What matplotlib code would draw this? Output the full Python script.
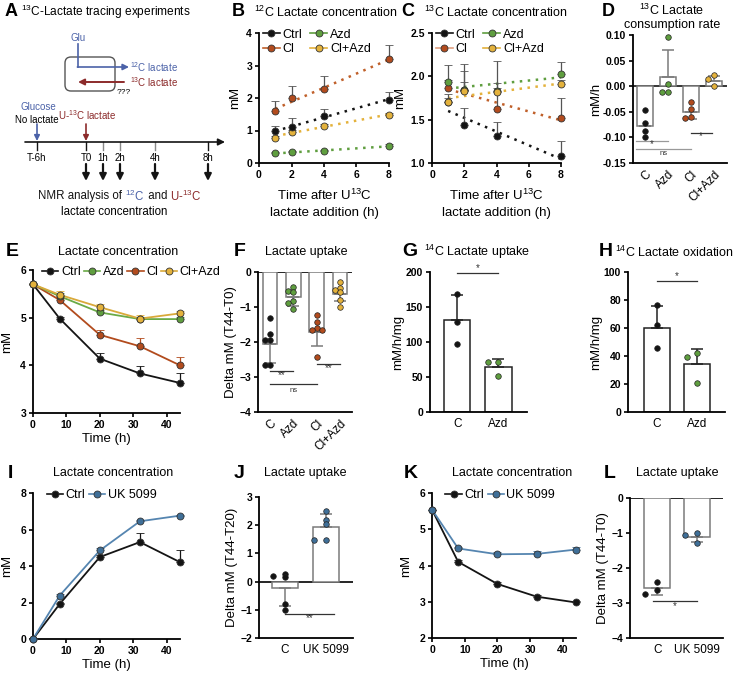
import matplotlib.pyplot as plt
import numpy as np
from matplotlib.patches import FancyBboxPatch
from matplotlib.lines import Line2D

plt.rcParams['font.family'] = ['Liberation Sans', 'DejaVu Sans']
plt.rcParams['mathtext.fontset'] = 'custom'
plt.rcParams['mathtext.rm'] = 'Liberation Sans'
plt.rcParams['axes.linewidth'] = 1.3

# ---------------- data ----------------
# B: 12C lactate, C: 13C lactate (time after U13C addition, h)
tr_time = [1, 2, 4, 8]
b_ctrl = [0.98, 1.10, 1.45, 1.95]
b_ctrl_err = [0.15, 0.28, 0.20, 0.24]
b_azd = [0.30, 0.33, 0.37, 0.52]
b_azd_err = [0.03, 0.03, 0.03, 0.06]
b_cl = [1.60, 1.99, 2.27, 3.19]
b_cl_err = [0.31, 0.37, 0.42, 0.43]
b_clazd = [0.78, 0.96, 1.14, 1.48]
b_clazd_err = [0.05, 0.05, 0.05, 0.05]

c_ctrl = [1.70, 1.44, 1.31, 1.08]
c_ctrl_err = [0.10, 0.20, 0.16, 0.17]
c_azd = [1.94, 1.84, 1.83, 2.03]
c_azd_err = [0.19, 0.10, 0.35, 0.13]
c_cl = [1.86, 1.84, 1.62, 1.52]
c_cl_err = [0.10, 0.30, 0.25, 0.23]
c_clazd = [1.70, 1.83, 1.82, 1.91]
c_clazd_err = [0.05, 0.23, 0.10, 0.05]

# D: 13C lactate consumption rate (mM/h)
d_cats = ['C', 'Azd', 'Cl', 'Cl+Azd']
d_means = [-0.077, 0.017, -0.050, 0.011]
d_sd = [0.0, 0.053, 0.015, 0.008]
d_pts = [[-0.047, -0.072, -0.088, -0.099],
         [0.097, 0.005, -0.012, -0.012],
         [-0.030, -0.045, -0.061, -0.062],
         [0.022, 0.014, 0.001]]

# E: lactate concentration (mM) over time (h)
time_h = [0, 8, 20, 32, 44]
e_ctrl = [5.70, 4.98, 4.14, 3.83, 3.63]
e_ctrl_err = [0.0, 0.03, 0.11, 0.15, 0.21]
e_azd = [5.70, 5.45, 5.11, 4.97, 4.97]
e_azd_err = [0.0, 0.07, 0.06, 0.05, 0.05]
e_cl = [5.70, 5.37, 4.64, 4.40, 4.00]
e_cl_err = [0.0, 0.04, 0.11, 0.17, 0.18]
e_clazd = [5.70, 5.48, 5.22, 4.98, 5.09]
e_clazd_err = [0.0, 0.08, 0.06, 0.08, 0.06]

# F: lactate uptake, delta mM (T44-T0)
f_cats = ['C', 'Azd', 'Cl', 'Cl+Azd']
f_means = [-2.05, -0.72, -1.70, -0.62]
f_sd = [0.55, 0.25, 0.40, 0.22]
f_pts = [[-1.30, -1.78, -1.95, -1.95, -2.67, -2.67],
         [-0.43, -0.54, -0.57, -0.83, -0.89, -1.07],
         [-1.22, -1.43, -1.59, -1.67, -1.67, -2.43],
         [-0.29, -0.45, -0.50, -0.58, -0.81, -1.00]]

# G / H: 14C lactate uptake and oxidation (mM/h/mg)
gh_cats = ['C', 'Azd']
g_means = [131, 64]
g_sd = [36, 12]
g_pts = [[168, 129, 97], [71, 71, 51]]
h_means = [60, 34]
h_sd = [16, 11]
h_pts = [[76.5, 62, 46], [39, 42, 21]]

# I / K: lactate concentration with UK 5099
i_ctrl = [0.0, 1.92, 4.49, 5.31, 4.21]
i_ctrl_err = [0.0, 0.06, 0.10, 0.50, 0.66]
i_uk = [0.0, 2.38, 4.85, 6.45, 6.76]
i_uk_err = [0.0, 0.10, 0.15, 0.05, 0.05]
k_ctrl = [5.54, 4.10, 3.49, 3.14, 2.98]
k_ctrl_err = [0.0, 0.05, 0.05, 0.04, 0.05]
k_uk = [5.54, 4.47, 4.31, 4.32, 4.44]
k_uk_err = [0.0, 0.05, 0.05, 0.08, 0.06]

# J / L: lactate uptake with UK 5099
uk_cats = ['C', 'UK 5099']
j_means = [-0.24, 1.92]
j_sd = [0.62, 0.46]
j_pts = [[0.20, 0.28, 0.15, -0.80, -1.02], [2.50, 2.18, 2.06, 1.47, 1.47]]
l_means = [-2.57, -1.10]
l_sd = [0.19, 0.17]
l_pts = [[-2.40, -2.64, -2.73], [-1.00, -1.05, -1.29]]

# ---------------- style ----------------
BLK = '#141414'
GRN = '#5f9e3f'
RED = '#b24b1d'
YEL = '#e4b23c'
BLUE = '#3f6f98'
BLUEL = '#5585b0'
BARE = '#7a7a7a'
BLUE_A = '#4b62a8'
RED_A = '#8c2b2b'

W, H = 740, 675
fig = plt.figure(figsize=(W / 100, H / 100), dpi=100)


def add_ax(l, t, r, b):
    ax = fig.add_axes([l / W, 1 - b / H, (r - l) / W, (b - t) / H])
    ax.spines['top'].set_visible(False)
    ax.spines['right'].set_visible(False)
    ax.tick_params(direction='out', length=3, width=1.2, labelsize=7.5, pad=2)
    ax.patch.set_alpha(0)
    return ax


def bold_ticks(ax):
    for lab in ax.get_xticklabels() + ax.get_yticklabels():
        lab.set_fontweight('bold')


def swarm(vals, ythr, dx):
    vals = np.asarray(vals, float)
    xs = np.zeros(len(vals))
    placed = []
    for i in np.argsort(vals)[::-1]:
        for k in [0, -1, 1, -2, 2, -3, 3]:
            x = k * dx
            if all(abs(x - px) > dx * 0.9 or abs(vals[i] - py) >= ythr for px, py in placed):
                break
        xs[i] = x
        placed.append((x, vals[i]))
    return xs


def series(ax, t, y, err, color, lcolor=None, ls='-', ecolor=None, ms=5):
    ax.errorbar(t, y, yerr=[np.zeros(len(err)), err], fmt='o', color=ecolor or color,
                mfc=color, mec='#333333', mew=0.6, ms=ms, capsize=3, elinewidth=0.9,
                capthick=0.9, clip_on=False, zorder=3)
    if ls == '-':
        ax.plot(t, y, color=lcolor or color, lw=1.3, zorder=2, clip_on=False)
    else:
        k, b0 = np.polyfit(t, y, 1)
        xx = np.array([t[0], t[-1]])
        ax.plot(xx, k * xx + b0, ls=(0, (1, 2.2)), color=lcolor or color, lw=1.8, zorder=2)


def handle(color, lcolor=None):
    return Line2D([], [], color=lcolor or color, lw=1.2, marker='o', mfc=color,
                  mec='#333333', mew=0.6, ms=5)


def bar_panel(ax, cats, means, sds, pts, colors, ythr, dx, width=0.65, edge=BARE, rot=0):
    x = np.arange(len(cats))
    ax.bar(x, means, width, color='white', edgecolor=edge, lw=1.1, zorder=1)
    for i in x:
        lo = [sds[i]] if means[i] < 0 else [0]
        up = [sds[i]] if means[i] >= 0 else [0]
        ax.errorbar(i, means[i], yerr=[lo, up], color=edge, capsize=4, elinewidth=1.1,
                    capthick=1.1, zorder=2)
        offs = swarm(pts[i], ythr, dx)
        ax.scatter(i + offs, pts[i], s=16, color=colors[i], edgecolor='#222222',
                   lw=0.5, zorder=3, clip_on=False)
    ax.set_xticks(x)
    if rot:
        ax.set_xticklabels(cats, rotation=45, ha='right', rotation_mode='anchor', fontsize=8.5)
    else:
        ax.set_xticklabels(cats, fontsize=8.5)
    ax.tick_params(axis='x', length=0, pad=4)


def sig(ax, x0, x1, y, txt, color=BLK, dy=0.0, fs=7):
    ax.plot([x0, x1], [y, y], color=color, lw=0.9, clip_on=False)
    ax.text((x0 + x1) / 2, y + dy, txt, ha='center', va='center', fontsize=fs, color='#333333')


def finish_bar(ax):
    bold_ticks(ax)
    for lab in ax.get_xticklabels():
        lab.set_fontweight('normal')


# overlay axes in pixel coordinates for diagram, letters and titles
ov = fig.add_axes([0, 0, 1, 1])
ov.set_xlim(0, W)
ov.set_ylim(H, 0)
ov.axis('off')
ov.patch.set_alpha(0)


def letter(x, y, s, fs=14):
    ov.text(x, y, s, fontsize=fs, fontweight='bold', va='center', ha='left')


def title(x, y, s, ha='left', fs=9):
    ov.text(x, y, s, fontsize=fs, va='center', ha=ha)


# ---------------- panel A (diagram) ----------------
letter(5, 12, 'A', 13)
title(21, 12, r'$^{13}$C-Lactate tracing experiments', fs=8.6)
ov.add_patch(FancyBboxPatch((65, 57), 50, 34, boxstyle='round,pad=0,rounding_size=6',
                            fc='none', ec='#555555', lw=1.0))
ov.text(78, 38, 'Glu', color=BLUE_A, ha='center', va='center', fontsize=7)
ov.plot([78, 78], [44, 67], color=BLUE_A, lw=1.2)
ov.annotate('', xy=(129, 67), xytext=(77.4, 67),
            arrowprops=dict(arrowstyle='-|>', color=BLUE_A, lw=1.2, mutation_scale=9,
                            shrinkA=0, shrinkB=0))
ov.text(130, 67, r'$^{12}$C lactate', color=BLUE_A, va='center', fontsize=7)
ov.annotate('', xy=(78, 82), xytext=(124, 82),
            arrowprops=dict(arrowstyle='-|>', color=RED_A, lw=1.4, mutation_scale=9,
                            shrinkA=0, shrinkB=0))
ov.text(130, 82, r'$^{13}$C lactate', color=RED_A, va='center', fontsize=7)
ov.text(117, 92, '???', va='center', fontsize=6)
ov.text(38, 107, 'Glucose', color=BLUE_A, ha='center', va='center', fontsize=7)
ov.text(37, 120, 'No lactate', ha='center', va='center', fontsize=7)
ov.text(58, 115, r'U-$^{13}$C lactate', color=RED_A, va='center', fontsize=7)
for xa, ca in [(37, BLUE_A), (86, RED_A)]:
    ov.annotate('', xy=(xa, 141), xytext=(xa, 124),
                arrowprops=dict(arrowstyle='-|>', color=ca, lw=1.2, mutation_scale=8,
                                shrinkA=0, shrinkB=0))
ov.annotate('', xy=(225, 142), xytext=(25, 142),
            arrowprops=dict(arrowstyle='-|>', color=BLK, lw=1.2, mutation_scale=10,
                            shrinkA=0, shrinkB=0))
tl_x = [37, 86, 103, 120, 155, 208]
tl_lab = ['T-6h', 'T0', '1h', '2h', '4h', '8h']
tl_col = [BLK, BLK, '#888888', '#888888', '#888888', BLK]
for xt, lab, ct in zip(tl_x, tl_lab, tl_col):
    ov.plot([xt, xt], [142, 150], color=ct, lw=1.0)
    ov.text(xt, 158, lab, ha='center', va='center', fontsize=7)
for xt in tl_x[1:]:
    ov.annotate('', xy=(xt, 181), xytext=(xt, 164),
                arrowprops=dict(arrowstyle='-|>', color=BLK, lw=1.6, mutation_scale=10,
                                shrinkA=0, shrinkB=0))

fig.canvas.draw()
rend = fig.canvas.get_renderer()
pieces = [('NMR analysis of ', BLK), (r'$^{12}$C', BLUE_A), (' and ', BLK), (r'U-$^{13}$C', RED_A)]
xcur = 38
inv = ov.transData.inverted()
for s, c in pieces:
    t = ov.text(xcur, 196, s, color=c, fontsize=8.3, va='center', ha='left')
    bb = t.get_window_extent(renderer=rend)
    x0 = inv.transform((bb.x0, 0))[0]
    x1 = inv.transform((bb.x1, 0))[0]
    xcur = xcur + (x1 - x0)
ov.text(114, 212, 'lactate concentration', fontsize=8.3, va='center', ha='center')

legend_kw = dict(frameon=False, fontsize=9, loc='upper left', handletextpad=0.2,
                 borderpad=0)

# ---------------- panel B ----------------
letter(232, 12, 'B', 13)
title(254, 12, r'$^{12}$C Lactate concentration')
ax = add_ax(259, 33, 389, 163)
series(ax, tr_time, b_azd, b_azd_err, GRN, ls=':', ecolor='#555555')
series(ax, tr_time, b_clazd, b_clazd_err, YEL, ls=':', ecolor='#555555')
series(ax, tr_time, b_ctrl, b_ctrl_err, BLK, ls=':', ecolor='#555555')
series(ax, tr_time, b_cl, b_cl_err, RED, lcolor='#c0602a', ls=':', ecolor='#555555')
ax.set_xlim(0, 8)
ax.set_ylim(0, 4)
ax.set_xticks([0, 2, 4, 6, 8])
ax.set_yticks([0, 1, 2, 3, 4])
bold_ticks(ax)
ax.set_ylabel('mM', fontsize=9.5, labelpad=4)
ax.set_xlabel('Time after U$^{13}$C\nlactate addition (h)', fontsize=9.5, labelpad=6,
              linespacing=1.4)
ax.legend([handle(BLK), handle(RED, '#c0602a'), handle(GRN), handle(YEL)],
          ['Ctrl', 'Cl', 'Azd', 'Cl+Azd'], ncol=2, bbox_to_anchor=(-0.02, 1.08),
          handlelength=1.4, columnspacing=0.6, labelspacing=0.2, **legend_kw)

# ---------------- panel C ----------------
letter(401, 12, 'C', 13)
title(424, 12, r'$^{13}$C Lactate concentration')
ax = add_ax(432, 33, 561, 163)
series(ax, tr_time, c_ctrl, c_ctrl_err, BLK, ls=':', ecolor='#555555')
series(ax, tr_time, c_cl, c_cl_err, RED, lcolor='#c0602a', ls=':', ecolor='#555555')
series(ax, tr_time, c_azd, c_azd_err, GRN, ls=':', ecolor='#555555')
series(ax, tr_time, c_clazd, c_clazd_err, YEL, ls=':', ecolor='#555555')
ax.set_xlim(0, 8)
ax.set_ylim(1.0, 2.5)
ax.set_xticks([0, 2, 4, 6, 8])
ax.set_yticks([1.0, 1.5, 2.0, 2.5])
ax.set_yticklabels(['1.0', '1.5', '2.0', '2.5'])
bold_ticks(ax)
ax.set_ylabel('mM', fontsize=9.5, labelpad=3)
ax.set_xlabel('Time after U$^{13}$C\nlactate addition (h)', fontsize=9.5, labelpad=6,
              linespacing=1.4)
ax.legend([handle(BLK), handle(RED, '#e0a080'), handle(GRN), handle(YEL)],
          ['Ctrl', 'Cl', 'Azd', 'Cl+Azd'], ncol=2, bbox_to_anchor=(-0.02, 1.08),
          handlelength=1.4, columnspacing=0.6, labelspacing=0.2, **legend_kw)

# ---------------- panel D ----------------
letter(602, 11, 'D', 13)
title(672, 10, r'$^{13}$C Lactate', ha='center')
title(672, 25, 'consumption rate', ha='center')
ax = add_ax(633, 35, 727, 163)
ax.axhline(0, color=BLK, lw=1.2, zorder=0)
bar_panel(ax, d_cats, d_means, d_sd, d_pts, [BLK, GRN, RED, YEL], 0.008, 0.25,
          width=0.7, rot=True)
ax.set_xlim(-0.52, 3.57)
ax.set_ylim(-0.15, 0.10)
ax.set_yticks([-0.15, -0.10, -0.05, 0.0, 0.05, 0.10])
ax.set_yticklabels(['-0.15', '-0.10', '-0.05', '0.00', '0.05', '0.10'])
finish_bar(ax)
ax.set_ylabel('mM/h', fontsize=9.5, labelpad=0)
sig(ax, -0.4, 1.0, -0.108, '*', color='#999999', dy=-0.006)
sig(ax, -0.4, 2.0, -0.123, 'ns', color='#999999', dy=-0.009, fs=5.5)
sig(ax, 2.0, 2.9, -0.092, '*', color='#333333', dy=-0.006)

# ---------------- panel E ----------------
letter(6, 252, 'E', 14)
title(118, 252, 'Lactate concentration', ha='center')
ax = add_ax(33, 270, 180, 413)
series(ax, time_h, e_ctrl, e_ctrl_err, BLK)
series(ax, time_h, e_cl, e_cl_err, RED)
series(ax, time_h, e_azd, e_azd_err, GRN, lcolor='#6aaa46')
series(ax, time_h, e_clazd, e_clazd_err, YEL, lcolor='#d9a93a')
ax.set_xlim(0, 44)
ax.set_ylim(3, 6)
ax.set_xticks([0, 10, 20, 30, 40])
ax.set_yticks([3, 4, 5, 6])
bold_ticks(ax)
ax.set_ylabel('mM', fontsize=9.5, labelpad=5)
ax.set_xlabel('Time (h)', fontsize=9.5, labelpad=2)
ax.legend([handle(BLK), handle(GRN, '#6aaa46'), handle(RED), handle(YEL, '#d9a93a')],
          ['Ctrl', 'Azd', 'Cl', 'Cl+Azd'], ncol=4, bbox_to_anchor=(0.02, 1.07),
          handlelength=1.3, columnspacing=0.25, **legend_kw)

# ---------------- panel F ----------------
letter(234, 252, 'F', 14)
title(306, 252, 'Lactate uptake', ha='center')
ax = add_ax(258, 272, 352, 412)
ax.axhline(0, color=BLK, lw=1.3, zorder=0)
bar_panel(ax, f_cats, f_means, f_sd, f_pts, [BLK, GRN, RED, YEL], 0.12, 0.22,
          width=0.63, rot=True)
ax.set_xlim(-0.52, 3.52)
ax.set_ylim(-4, 0)
ax.set_yticks([-4, -3, -2, -1, 0])
finish_bar(ax)
ax.set_ylabel('Delta mM (T44-T0)', fontsize=9.5, labelpad=2)
sig(ax, 0.0, 1.0, -2.83, '**', color='#333333', dy=-0.12)
sig(ax, 0.0, 2.0, -3.21, 'ns', color='#333333', dy=-0.17, fs=5.5)
sig(ax, 2.0, 3.0, -2.62, '**', color='#333333', dy=-0.12)

# ---------------- panel G ----------------
letter(402, 252, 'G', 14)
title(424, 252, r'$^{14}$C Lactate uptake')
ax = add_ax(430, 272, 527, 412)
bar_panel(ax, gh_cats, g_means, g_sd, g_pts, [BLK, GRN], 8, 0.25, width=0.65, edge='#222222')
ax.set_xlim(-0.66, 1.7)
ax.set_ylim(0, 200)
ax.set_yticks([0, 50, 100, 150, 200])
finish_bar(ax)
ax.set_ylabel('mM/h/mg', fontsize=9.5, labelpad=1)
sig(ax, 0.0, 1.0, 198, '*', color='#333333', dy=7)

# ---------------- panel H ----------------
letter(599, 252, 'H', 14)
title(615, 252, r'$^{14}$C Lactate oxidation')
ax = add_ax(628, 272, 725, 412)
bar_panel(ax, gh_cats, h_means, h_sd, h_pts, [BLK, GRN], 4, 0.25, width=0.65, edge='#222222')
ax.set_xlim(-0.72, 1.7)
ax.set_ylim(0, 100)
ax.set_yticks([0, 20, 40, 60, 80, 100])
finish_bar(ax)
ax.set_ylabel('mM/h/mg', fontsize=9.5, labelpad=1)
sig(ax, 0.0, 1.0, 93.5, '*', color='#333333', dy=3.5)

# ---------------- panel I ----------------
letter(8, 473, 'I', 14)
title(113, 473, 'Lactate concentration', ha='center')
ax = add_ax(33, 493, 180, 639)
series(ax, time_h, i_ctrl, i_ctrl_err, BLK)
series(ax, time_h, i_uk, i_uk_err, BLUE, lcolor=BLUEL)
ax.set_xlim(0, 44)
ax.set_ylim(0, 8)
ax.set_xticks([0, 10, 20, 30, 40])
ax.set_yticks([0, 2, 4, 6, 8])
bold_ticks(ax)
ax.set_ylabel('mM', fontsize=9.5, labelpad=5)
ax.set_xlabel('Time (h)', fontsize=9.5, labelpad=2)
ax.legend([handle(BLK), handle(BLUE, BLUEL)], ['Ctrl', 'UK 5099'], ncol=2,
          bbox_to_anchor=(0.05, 1.07), handlelength=1.3, columnspacing=0.3, **legend_kw)

# ---------------- panel J ----------------
letter(234, 473, 'J', 14)
title(305, 473, 'Lactate uptake', ha='center')
ax = add_ax(259, 497, 353, 638)
ax.axhline(0, color=BLK, lw=1.3, zorder=0)
bar_panel(ax, uk_cats, j_means, j_sd, j_pts, [BLK, BLUE], 0.12, 0.3, width=0.65)
ax.set_xlim(-0.63, 1.66)
ax.set_ylim(-2, 3)
ax.set_yticks([-2, -1, 0, 1, 2, 3])
finish_bar(ax)
ax.set_ylabel('Delta mM (T44-T20)', fontsize=9.5, labelpad=2)
sig(ax, 0.0, 1.2, -1.14, '**', color='#333333', dy=-0.17)

# ---------------- panel K ----------------
letter(404, 473, 'K', 14)
title(452, 473, 'Lactate concentration')
ax = add_ax(432, 493, 576, 638)
series(ax, time_h, k_ctrl, k_ctrl_err, BLK)
series(ax, time_h, k_uk, k_uk_err, BLUE, lcolor=BLUEL)
ax.set_xlim(0, 44)
ax.set_ylim(2, 6)
ax.set_xticks([0, 10, 20, 30, 40])
ax.set_yticks([2, 3, 4, 5, 6])
bold_ticks(ax)
ax.set_ylabel('mM', fontsize=9.5, labelpad=5)
ax.set_xlabel('Time (h)', fontsize=9.5, labelpad=2)
ax.legend([handle(BLK), handle(BLUE, BLUEL)], ['Ctrl', 'UK 5099'], ncol=2,
          bbox_to_anchor=(0.05, 1.07), handlelength=1.3, columnspacing=0.3, **legend_kw)

# ---------------- panel L ----------------
letter(604, 473, 'L', 14)
title(677, 473, 'Lactate uptake', ha='center')
ax = add_ax(630, 498, 723, 638)
ax.axhline(0, color=BLK, lw=1.3, zorder=0)
bar_panel(ax, uk_cats, l_means, l_sd, l_pts, [BLK, BLUE], 0.12, 0.3, width=0.65)
ax.set_xlim(-0.68, 1.65)
ax.set_ylim(-4, 0)
ax.set_yticks([-4, -3, -2, -1, 0])
finish_bar(ax)
ax.set_ylabel('Delta mM (T44-T0)', fontsize=9.5, labelpad=2)
sig(ax, -0.1, 1.0, -2.93, '*', color='#333333', dy=-0.15)

fig.savefig('out.png', dpi=100)
